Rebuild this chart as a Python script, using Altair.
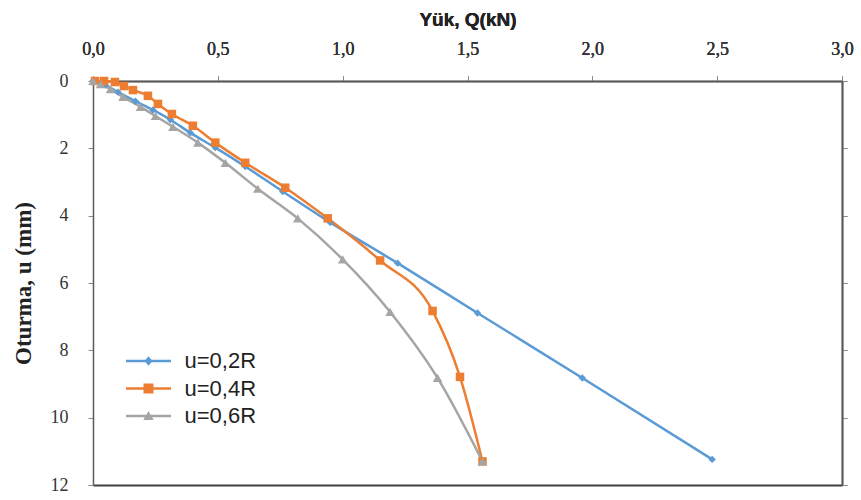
import altair as alt
import pandas as pd

series_names = ["u=0,2R", "u=0,4R", "u=0,6R"]

q_02 = [0.0, 0.05, 0.10, 0.17, 0.24, 0.31, 0.39, 0.49, 0.61, 0.76, 0.95, 1.22, 1.54, 1.96, 2.48]
u_02 = [0.0, 0.12, 0.33, 0.60, 0.86, 1.15, 1.54, 1.98, 2.54, 3.28, 4.20, 5.41, 6.89, 8.82, 11.24]

q_04 = [0.008, 0.044, 0.088, 0.124, 0.16, 0.22, 0.26, 0.316, 0.40, 0.49, 0.61, 0.77, 0.94, 1.15, 1.36, 1.47, 1.56]
u_04 = [0.0, 0.0, 0.03, 0.15, 0.27, 0.44, 0.68, 0.98, 1.33, 1.83, 2.43, 3.17, 4.08, 5.33, 6.83, 8.79, 11.30]

q_06 = [0.0, 0.03, 0.07, 0.12, 0.19, 0.25, 0.32, 0.42, 0.53, 0.66, 0.82, 1.00, 1.19, 1.38, 1.56]
u_06 = [0.0, 0.09, 0.24, 0.47, 0.77, 1.04, 1.36, 1.83, 2.43, 3.20, 4.08, 5.30, 6.86, 8.82, 11.30]

x_ticks = [0.0, 0.5, 1.0, 1.5, 2.0, 2.5, 3.0]
y_ticks = [0, 2, 4, 6, 8, 10, 12]

colors = ["#5B9BD5", "#ED7D31", "#A5A5A5"]
point_shapes = ["diamond", "square", "triangle-up"]
point_sizes = [55, 90, 80]
# legend symbols: a short line with the marker in the middle
legend_shapes = [
    "M-2.25,-0.125H2.25V0.125H-2.25Z M0,-0.48L0.4,0L0,0.48L-0.4,0Z",
    "M-2.25,-0.125H2.25V0.125H-2.25Z M-0.5,-0.5H0.5V0.5H-0.5Z",
    "M-2.25,-0.125H2.25V0.125H-2.25Z M0,-0.5L0.52,0.4H-0.52Z",
]

rows = []
for name, qs, us in zip(series_names, [q_02, q_04, q_06], [u_02, u_04, u_06]):
    for i, (q, u) in enumerate(zip(qs, us)):
        rows.append({"series": name, "Q": q, "u": u, "idx": i})
df = pd.DataFrame(rows)

x_scale = alt.Scale(domain=[0, 3], nice=False)
y_scale = alt.Scale(domain=[0, 12], reverse=True, nice=False)

x_enc = alt.X(
    "Q:Q",
    scale=x_scale,
    axis=alt.Axis(
        orient="top",
        title="Yük, Q(kN)",
        titleFontSize=19,
        values=x_ticks,
        labelFlush=False,
        labelExpr="replace(format(datum.value, '.1f'), '.', ',')",
    ),
)
y_enc = alt.Y(
    "u:Q",
    scale=y_scale,
    axis=alt.Axis(title="Oturma,  u (mm)", values=y_ticks, labelFlush=False,
                  titleFont="Liberation Serif", titleFontSize=23),
)
color_scale = alt.Scale(domain=series_names, range=colors)

lines = alt.Chart(df).mark_line(interpolate="monotone", strokeWidth=2.5).encode(
    x=x_enc,
    y=y_enc,
    color=alt.Color("series:N", scale=color_scale, legend=None),
    order=alt.Order("idx:Q"),
)

points = alt.Chart(df).mark_point(filled=True, opacity=1).encode(
    x=x_enc,
    y=y_enc,
    color=alt.Color("series:N", scale=color_scale, legend=None),
    shape=alt.Shape("series:N", scale=alt.Scale(domain=series_names, range=point_shapes), legend=None),
    size=alt.Size("series:N", scale=alt.Scale(domain=series_names, range=point_sizes), legend=None),
)

legend_props = dict(
    title=None,
    orient="none",
    legendX=44.5,
    legendY=269,
    symbolSize=400,
    symbolOpacity=1,
    symbolStrokeWidth=0,
    labelFont="Liberation Sans",
    labelFontSize=22,
    labelColor="#222222",
    labelOffset=25,
    rowPadding=5.5,
)

legend_layer = alt.Chart(df).mark_point(filled=True, opacity=0, size=60).encode(
    x=x_enc,
    y=y_enc,
    color=alt.Color("series:N", scale=color_scale, legend=alt.Legend(**legend_props)),
    shape=alt.Shape(
        "series:N",
        scale=alt.Scale(domain=series_names, range=legend_shapes),
        legend=alt.Legend(**legend_props),
    ),
)

# frame: bottom and right axis lines only (no ticks, no labels)
frame = alt.Chart(df).mark_point(opacity=0).encode(
    x=alt.X("Q:Q", scale=x_scale, axis=alt.Axis(orient="bottom", title=None, labels=False, ticks=False,
                                                 values=[], grid=False, domainColor="#404040", domainWidth=2.2)),
    y=alt.Y("u:Q", scale=y_scale, axis=alt.Axis(orient="right", title=None, labels=False, ticks=False,
                                                values=[], grid=False, domainColor="#5a5a5a", domainWidth=1.5)),
)

chart = (
    alt.layer(lines, points, legend_layer, frame)
    .resolve_scale(shape="independent", color="independent", size="independent")
    .resolve_axis(x="independent", y="independent")
    .properties(
        width=749,
        height=404,
        autosize=alt.AutoSizeParams(type="none"),
        padding={"left": 93, "top": 81, "right": 19, "bottom": 15},
        background="white",
    )
    .configure_view(stroke=None)
    .configure_axis(
        grid=False,
        domainColor="#5a5a5a",
        domainWidth=1.5,
        tickColor="#8a8a8a",
        tickSize=5,
        labelFont="Liberation Serif",
        labelFontSize=18,
        labelColor="#333333",
        titleFont="Liberation Sans",
        titleFontSize=17,
        titleFontWeight="bold",
        titleColor="#222222",
    )
    .configure_axisX(labelPadding=18, titlePadding=11)
    .configure_axisY(labelPadding=20, titlePadding=15)
)

chart.save("out.html", embed_options={"renderer": "svg", "actions": False})
